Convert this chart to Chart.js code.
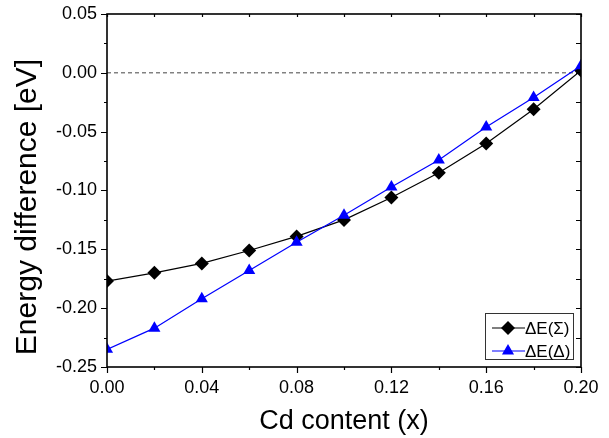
<!DOCTYPE html>
<html>
<head>
<meta charset="utf-8">
<script src="https://cdn.jsdelivr.net/npm/chart.js@4/dist/chart.umd.min.js"></script>
<style>
    html, body { margin: 0; padding: 0; background: #fff; }
    #wrap { width: 609px; height: 438px; }
</style>
</head>
<body>
<div id="wrap"><canvas id="chart" width="609" height="438"></canvas></div>
<script>
// Dados
const cdContent = [0.00, 0.02, 0.04, 0.06, 0.08, 0.10, 0.12, 0.14, 0.16, 0.18, 0.20];
const deltaSigma = [-0.177, -0.170, -0.162, -0.151, -0.139, -0.125, -0.106, -0.085, -0.060, -0.031, 0.002];
const deltaDelta = [-0.235, -0.217, -0.192, -0.168, -0.144, -0.121, -0.097, -0.074, -0.046, -0.021, 0.006];
const seriesLabels = ['ΔE(Σ)', 'ΔE(Δ)'];
const xTitle = 'Cd content (x)';
const yTitle = 'Energy difference [eV]';
const xRange = [0, 0.2];
const yRange = [-0.25, 0.05];

const FONT = '"Liberation Sans", Arial, sans-serif';

// Formatar rótulo (evita "-0.00")
function fmt(v) {
    return (Math.abs(v) < 1e-9 ? 0 : v).toFixed(2);
}

// Moldura com ticks (principais e secundários), título do eixo Y e legenda
const framePlugin = {
    id: 'frame',
    afterDraw(chart) {
        const { ctx, chartArea: a, scales } = chart;
        const xs = scales.x, ys = scales.y;
        ctx.save();
        ctx.strokeStyle = '#000';
        ctx.lineWidth = 1.6;
        ctx.strokeRect(a.left, a.top, a.right - a.left, a.bottom - a.top);
        ctx.lineWidth = 1.2;
        ctx.beginPath();
        for (let i = 0; i <= 10; i++) {
            const v = xRange[0] + i * 0.02;
            const px = Math.round(xs.getPixelForValue(v)) + 0.5;
            const major = i % 2 === 0;
            ctx.moveTo(px, a.bottom);
            ctx.lineTo(px, a.bottom + (major ? 6 : 3));
            ctx.moveTo(px, a.top);
            ctx.lineTo(px, a.top + 3);
        }
        for (let i = 0; i <= 12; i++) {
            const v = yRange[0] + i * 0.025;
            const py = Math.round(ys.getPixelForValue(v)) + 0.5;
            const major = i % 2 === 0;
            ctx.moveTo(a.left, py);
            ctx.lineTo(a.left - (major ? 6 : 3), py);
            ctx.moveTo(a.right, py);
            ctx.lineTo(a.right - 5, py);
        }
        ctx.stroke();

        // Título do eixo Y
        ctx.save();
        ctx.translate(36, 207);
        ctx.rotate(-Math.PI / 2);
        ctx.fillStyle = '#000';
        ctx.font = '30px ' + FONT;
        ctx.textAlign = 'center';
        ctx.textBaseline = 'alphabetic';
        ctx.fillText(yTitle, 0, 0);
        ctx.restore();

        // Legenda
        const bx = 485, by = 313, bw = 88, bh = 46;
        ctx.fillStyle = '#fff';
        ctx.fillRect(bx, by, bw, bh);
        ctx.lineWidth = 1;
        ctx.strokeStyle = '#333';
        ctx.strokeRect(bx + 0.5, by + 0.5, bw, bh);
        const rows = [
            { color: '#000', style: 'rectRot', y: by + 15 },
            { color: '#0000ff', style: 'triangle', y: by + 38 }
        ];
        rows.forEach((r, i) => {
            ctx.strokeStyle = r.color;
            ctx.lineWidth = 1.2;
            ctx.beginPath();
            ctx.moveTo(bx + 7, r.y);
            ctx.lineTo(bx + 40, r.y);
            ctx.stroke();
            ctx.fillStyle = r.color;
            Chart.helpers.drawPoint(ctx, { pointStyle: r.style, radius: 7, borderWidth: 0, rotation: 0 }, bx + 23, r.y);
            ctx.fillStyle = '#000';
            ctx.font = '17px ' + FONT;
            ctx.textBaseline = 'middle';
            ctx.textAlign = 'left';
            ctx.fillText(seriesLabels[i], bx + 40, r.y + 1);
        });
        ctx.restore();
    }
};

const ctx = document.getElementById('chart').getContext('2d');
new Chart(ctx, {
    type: 'line',
    data: {
        datasets: [{
            label: seriesLabels[1],
            data: cdContent.map((x, i) => ({ x: x, y: deltaDelta[i] })),
            borderColor: '#0000ff',
            backgroundColor: '#0000ff',
            borderWidth: 1.2,
            pointStyle: 'triangle',
            pointRadius: 7,
            pointBorderWidth: 0,
            order: 0
        }, {
            label: seriesLabels[0],
            data: cdContent.map((x, i) => ({ x: x, y: deltaSigma[i] })),
            borderColor: '#000',
            backgroundColor: '#000',
            borderWidth: 1.2,
            pointStyle: 'rectRot',
            pointRadius: 7,
            pointBorderWidth: 0,
            order: 1
        }, {
            label: 'zero',
            data: [{ x: xRange[0], y: 0 }, { x: xRange[1], y: 0 }],
            borderColor: '#444',
            borderWidth: 1,
            borderDash: [4, 3],
            pointRadius: 0,
            order: 2
        }]
    },
    options: {
        responsive: false,
        animation: false,
        layout: { padding: { left: 0, top: 14, right: 28, bottom: 0 } },
        plugins: { legend: { display: false }, tooltip: { enabled: false } },
        scales: {
            x: {
                type: 'linear',
                min: xRange[0],
                max: xRange[1],
                grid: { display: false, drawTicks: false },
                border: { display: false },
                ticks: {
                    stepSize: 0.04,
                    padding: 10,
                    color: '#000',
                    font: { family: FONT, size: 18 },
                    maxRotation: 0,
                    callback: v => fmt(v)
                },
                title: {
                    display: true,
                    text: xTitle,
                    color: '#000',
                    font: { family: FONT, size: 27 },
                    padding: { top: 4, bottom: 0 }
                },
                afterFit: s => {
                    s.height = 71;
                    s.paddingLeft = 0;
                    s.paddingRight = 0;
                }
            },
            y: {
                min: yRange[0],
                max: yRange[1],
                grid: { display: false, drawTicks: false },
                border: { display: false },
                ticks: {
                    stepSize: 0.05,
                    padding: 10,
                    color: '#000',
                    font: { family: FONT, size: 18 },
                    callback: v => fmt(v)
                },
                afterFit: s => {
                    s.width = 107;
                    s.paddingTop = 0;
                    s.paddingBottom = 0;
                }
            }
        }
    },
    plugins: [framePlugin]
});
</script>
</body>
</html>
